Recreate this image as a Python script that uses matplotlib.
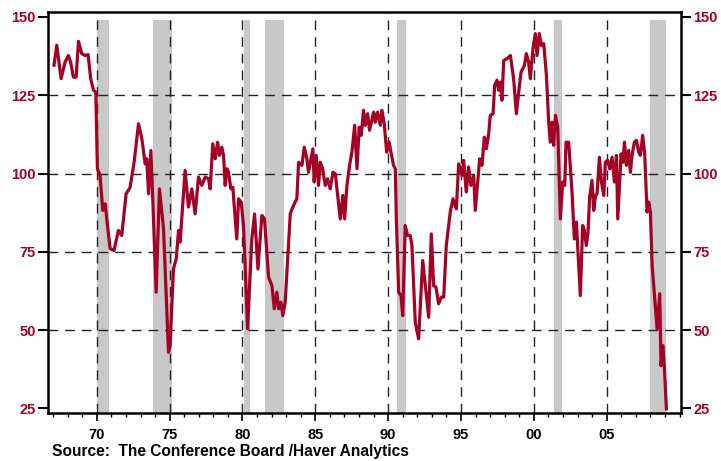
"""
    Consumer confidence index with recession shading, redrawn with matplotlib.
"""
import matplotlib
matplotlib.use("Agg")
import matplotlib.pyplot as plt

LINE_COLOR = '#A50026'
SHADE_COLOR = '#C8C8C8'

# index readings (decimal year, value)
YEARS = [
    1967.06, 1967.25, 1967.55, 1967.82, 1968.05, 1968.20, 1968.39, 1968.58, 1968.74, 1968.96,
    1969.19, 1969.40, 1969.58, 1969.77, 1969.93, 1970.04, 1970.22, 1970.41, 1970.57, 1970.91,
    1971.18, 1971.48, 1971.71, 1972.01, 1972.28, 1972.56, 1972.86, 1973.09, 1973.32, 1973.43,
    1973.55, 1973.71, 1973.84, 1974.07, 1974.30, 1974.58, 1974.92, 1975.03, 1975.26, 1975.45,
    1975.61, 1975.72, 1976.06, 1976.29, 1976.52, 1976.75, 1976.98, 1977.21, 1977.44, 1977.67,
    1977.78, 1977.96, 1978.13, 1978.29, 1978.42, 1978.58, 1978.70, 1978.81, 1978.93, 1979.04,
    1979.20, 1979.34, 1979.43, 1979.61, 1979.73, 1979.91, 1980.07, 1980.35, 1980.64, 1980.83,
    1981.06, 1981.33, 1981.51, 1981.79, 1982.02, 1982.18, 1982.36, 1982.48, 1982.64, 1982.77,
    1982.93, 1983.09, 1983.28, 1983.50, 1983.73, 1983.85, 1984.08, 1984.24, 1984.42, 1984.53,
    1984.70, 1984.83, 1984.92, 1985.06, 1985.22, 1985.34, 1985.50, 1985.68, 1985.84, 1986.02,
    1986.21, 1986.37, 1986.71, 1986.89, 1987.01, 1987.17, 1987.35, 1987.51, 1987.70, 1987.86,
    1988.01, 1988.15, 1988.31, 1988.43, 1988.59, 1988.72, 1989.00, 1989.11, 1989.27, 1989.46,
    1989.57, 1989.73, 1989.90, 1990.07, 1990.19, 1990.37, 1990.49, 1990.56, 1990.72, 1990.88,
    1991.00, 1991.17, 1991.33, 1991.52, 1991.63, 1991.86, 1992.09, 1992.37, 1992.55, 1992.78,
    1992.96, 1993.12, 1993.28, 1993.46, 1993.65, 1993.81, 1993.99, 1994.15, 1994.27, 1994.45,
    1994.68, 1994.84, 1995.07, 1995.18, 1995.36, 1995.52, 1995.68, 1995.87, 1995.98, 1996.16,
    1996.28, 1996.44, 1996.60, 1996.74, 1996.90, 1997.01, 1997.20, 1997.31, 1997.47, 1997.58,
    1997.70, 1997.81, 1997.93, 1998.16, 1998.39, 1998.61, 1998.80, 1998.96, 1999.12, 1999.35,
    1999.48, 1999.64, 1999.76, 1999.94, 2000.10, 2000.22, 2000.38, 2000.52, 2000.68, 2000.86,
    2001.02, 2001.13, 2001.25, 2001.36, 2001.48, 2001.64, 2001.82, 2001.98, 2002.12, 2002.21,
    2002.39, 2002.62, 2002.78, 2002.92, 2003.19, 2003.35, 2003.47, 2003.60, 2003.72, 2003.83,
    2003.99, 2004.11, 2004.23, 2004.34, 2004.50, 2004.64, 2004.80, 2004.91, 2005.07, 2005.21,
    2005.37, 2005.53, 2005.67, 2005.76, 2005.90, 2005.99, 2006.12, 2006.22, 2006.35, 2006.51,
    2006.63, 2006.74, 2006.90, 2007.04, 2007.20, 2007.31, 2007.47, 2007.61, 2007.77, 2007.89,
    2008.00, 2008.12, 2008.28, 2008.46, 2008.64, 2008.73, 2008.87, 2008.96, 2009.10,
]
VALUES = [
    134.6, 141.0, 130.3, 135.6, 137.7, 135.6, 130.8, 130.8, 142.2, 138.3,
    137.7, 138.0, 130.3, 126.6, 126.0, 101.5, 99.4, 88.2, 90.3, 76.0,
    75.4, 81.8, 80.2, 93.5, 95.5, 103.6, 115.9, 111.1, 103.1, 104.7,
    93.5, 107.4, 91.9, 62.1, 95.1, 82.3, 42.9, 45.0, 69.5, 72.8,
    81.8, 78.1, 101.0, 89.3, 95.1, 87.1, 98.9, 96.2, 98.9, 98.3,
    95.1, 109.5, 104.7, 110.0, 105.8, 108.4, 105.8, 96.2, 101.5, 100.4,
    95.1, 95.6, 89.8, 79.1, 91.9, 90.9, 83.4, 50.4, 79.1, 87.1,
    69.5, 86.6, 85.5, 66.9, 64.2, 56.8, 62.1, 56.8, 58.9, 54.6,
    58.9, 71.7, 87.2, 89.8, 91.9, 103.6, 102.6, 108.4, 104.7, 100.4,
    104.7, 107.9, 97.3, 105.8, 96.2, 103.6, 101.5, 96.2, 98.3, 95.1,
    100.4, 99.9, 85.5, 93.0, 85.5, 96.2, 102.6, 106.8, 115.4, 101.5,
    114.8, 112.2, 120.2, 115.4, 119.1, 113.8, 119.6, 116.4, 119.6, 115.4,
    120.2, 115.9, 106.8, 110.0, 106.8, 102.6, 101.5, 85.5, 62.1, 61.0,
    54.6, 83.4, 80.2, 80.2, 77.0, 52.5, 47.2, 72.2, 64.2, 54.1,
    80.7, 64.2, 63.7, 58.4, 60.5, 60.5, 77.0, 83.4, 88.0, 91.9,
    88.7, 103.1, 99.4, 104.2, 94.1, 102.1, 96.2, 99.4, 88.2, 98.3,
    104.7, 102.6, 111.6, 107.9, 112.7, 118.6, 119.1, 128.2, 129.8, 126.6,
    129.2, 123.4, 136.1, 136.7, 137.7, 130.3, 119.1, 126.0, 132.4, 134.5,
    138.3, 135.6, 130.3, 139.9, 144.7, 137.7, 144.7, 140.9, 141.5, 131.4,
    116.4, 110.0, 116.4, 109.0, 118.6, 114.8, 85.5, 97.3, 96.2, 110.0,
    110.0, 94.1, 79.1, 84.5, 61.0, 83.4, 81.8, 77.0, 81.3, 92.5,
    97.8, 88.2, 93.0, 93.5, 105.2, 97.3, 93.0, 103.6, 104.2, 101.5,
    105.2, 97.3, 105.8, 85.5, 98.3, 106.3, 103.6, 110.0, 102.6, 107.4,
    100.4, 105.8, 110.0, 110.6, 106.8, 105.8, 112.2, 106.3, 87.7, 90.9,
    87.7, 70.6, 61.0, 50.4, 61.6, 38.6, 45.0, 38.1, 24.8,
]

# recession periods (start, end)
REC_START = [1970.00, 1973.88, 1980.07, 1981.56, 1990.60, 2001.36, 2008.00]
REC_END = [1970.84, 1975.17, 1980.53, 1982.84, 1991.20, 2001.90, 2009.10]

Y_TICKS = [25, 50, 75, 100, 125, 150]
X_TICKS = [1970, 1975, 1980, 1985, 1990, 1995, 2000, 2005]
X_LABELS = ['70', '75', '80', '85', '90', '95', '00', '05']


def main():
    plt.rcParams['font.family'] = ['Liberation Sans', 'DejaVu Sans']
    fig = plt.figure(figsize=(7.21, 4.61), dpi=100)
    ax = fig.add_axes([0.0666, 0.1041, 0.8779, 0.8699])

    for start, end in zip(REC_START, REC_END):
        ax.axvspan(start, end, ymin=0, ymax=0.98, color=SHADE_COLOR, lw=0, zorder=1)

    for y in Y_TICKS[1:-1]:
        ax.axhline(y, color='#222222', lw=1.0, dashes=(7, 5), zorder=2)
    for x in X_TICKS:
        ax.axvline(x, color='#222222', lw=1.0, dashes=(7, 5), zorder=2)

    ax.plot(YEARS, VALUES, color=LINE_COLOR, lw=2.3, zorder=3,
            solid_joinstyle='round')

    ax.set_xlim(1966.65, 2010.1)
    ax.set_ylim(23.5, 151.6)
    ax.set_yticks(Y_TICKS)
    ax.set_xticks(X_TICKS)
    ax.set_xticklabels(X_LABELS)
    ax.set_xticks(range(1967, 2011), minor=True)

    ax.tick_params(axis='y', which='major', left=True, right=True,
                   labelleft=True, labelright=True, direction='out',
                   length=7, width=1.5, labelcolor=LINE_COLOR,
                   labelsize=10.5, pad=2)
    ax.tick_params(axis='x', which='major', direction='out', length=6,
                   width=1.2, labelsize=10.5, pad=5)
    ax.tick_params(axis='x', which='minor', direction='out', length=3,
                   width=1.0)
    for lab in ax.get_xticklabels():
        lab.set_fontweight('bold')
    for tk in ax.yaxis.get_major_ticks():
        tk.label1.set_fontweight('bold')
        tk.label2.set_fontweight('bold')

    for side in ['left', 'right', 'bottom', 'top']:
        ax.spines[side].set_linewidth(1.8)
        ax.spines[side].set_color('black')

    fig.text(52 / 721, 1 - 451 / 461,
             'Source:  The Conference Board /Haver Analytics',
             fontsize=11.2, fontweight='bold', va='center', ha='left')

    fig.savefig('out.png', dpi=100)


if __name__ == "__main__":
    main()
